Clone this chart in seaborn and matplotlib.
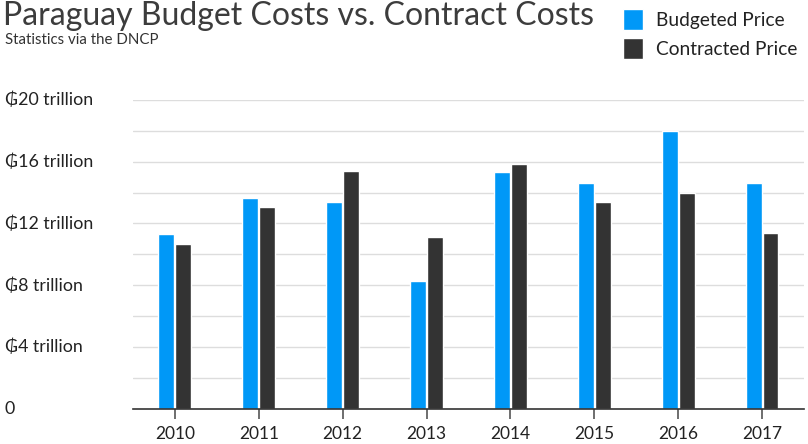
import matplotlib
matplotlib.use("Agg")
import matplotlib.pyplot as plt
import matplotlib.transforms as mtransforms
import seaborn as sns
import pandas as pd

# Data (trillions of guaraníes)
years = ["2010", "2011", "2012", "2013", "2014", "2015", "2016", "2017"]
budgeted = [11.3, 13.65, 13.4, 8.3, 15.3, 14.6, 18.0, 14.6]
contracted = [10.7, 13.05, 15.4, 11.15, 15.85, 13.4, 14.0, 11.4]
series_names = ["Budgeted Price", "Contracted Price"]
ytick_vals = [0, 4, 8, 12, 16, 20]
ytick_labels = ["0", "₲4 trillion", "₲8 trillion", "₲12 trillion", "₲16 trillion", "₲20 trillion"]

sns.set_theme(style="white")
FONT = ["Lato", "DejaVu Sans"]
plt.rcParams["font.family"] = FONT

df = pd.DataFrame({
    "year": years * 2,
    "value": budgeted + contracted,
    "series": [series_names[0]] * len(years) + [series_names[1]] * len(years),
})

fig = plt.figure(figsize=(8.08, 4.44), dpi=100)
ax = fig.add_axes([0.1646, 0.0788, 0.8304, 0.6964])

sns.barplot(data=df, x="year", y="value", hue="series", order=years,
            hue_order=series_names, palette=["#0098F7", "#333333"],
            width=0.405, gap=0.06, saturation=1, ax=ax, legend=True)

ax.set_xlim(-0.5, len(years) - 0.5)
ax.set_ylim(0, 20)
ax.set_xlabel("")
ax.set_ylabel("")

# gridlines every 2 trillion
for v in range(2, 21, 2):
    ax.axhline(v, color="#dddddd", lw=1, zorder=0)
ax.set_axisbelow(True)

for s in ["top", "right", "left"]:
    ax.spines[s].set_visible(False)
ax.spines["bottom"].set_color("#333333")
ax.spines["bottom"].set_linewidth(1.2)

ax.tick_params(axis="x", bottom=True, length=7, width=1.2, color="#555555",
               labelsize=12.5, labelcolor="#222222", pad=5)
ax.set_yticks([])

# y labels left-aligned at the figure edge
trans = mtransforms.blended_transform_factory(fig.transFigure, ax.transData)
for v, lab in zip(ytick_vals, ytick_labels):
    ax.text(0.006, v, lab, transform=trans, ha="left", va="center",
            fontsize=12.8, color="#222222", family=FONT)

fig.text(0.004, 0.998, "Paraguay Budget Costs vs. Contract Costs", ha="left", va="top",
         fontsize=23, color="#3c3c3c", fontweight="normal", family=FONT)
fig.text(0.006, 0.925, "Statistics via the DNCP", ha="left", va="top",
         fontsize=10.8, color="#333333", family=FONT)

leg = ax.legend(loc="upper left", bbox_to_anchor=(0.757, 1.005), bbox_transform=fig.transFigure,
                frameon=False, fontsize=13.8, handlelength=1.05, handleheight=1.3,
                handletextpad=0.65, labelspacing=0.4, borderaxespad=0.2)
for t in leg.get_texts():
    t.set_color("#222222")

fig.savefig("out.png", dpi=100)
